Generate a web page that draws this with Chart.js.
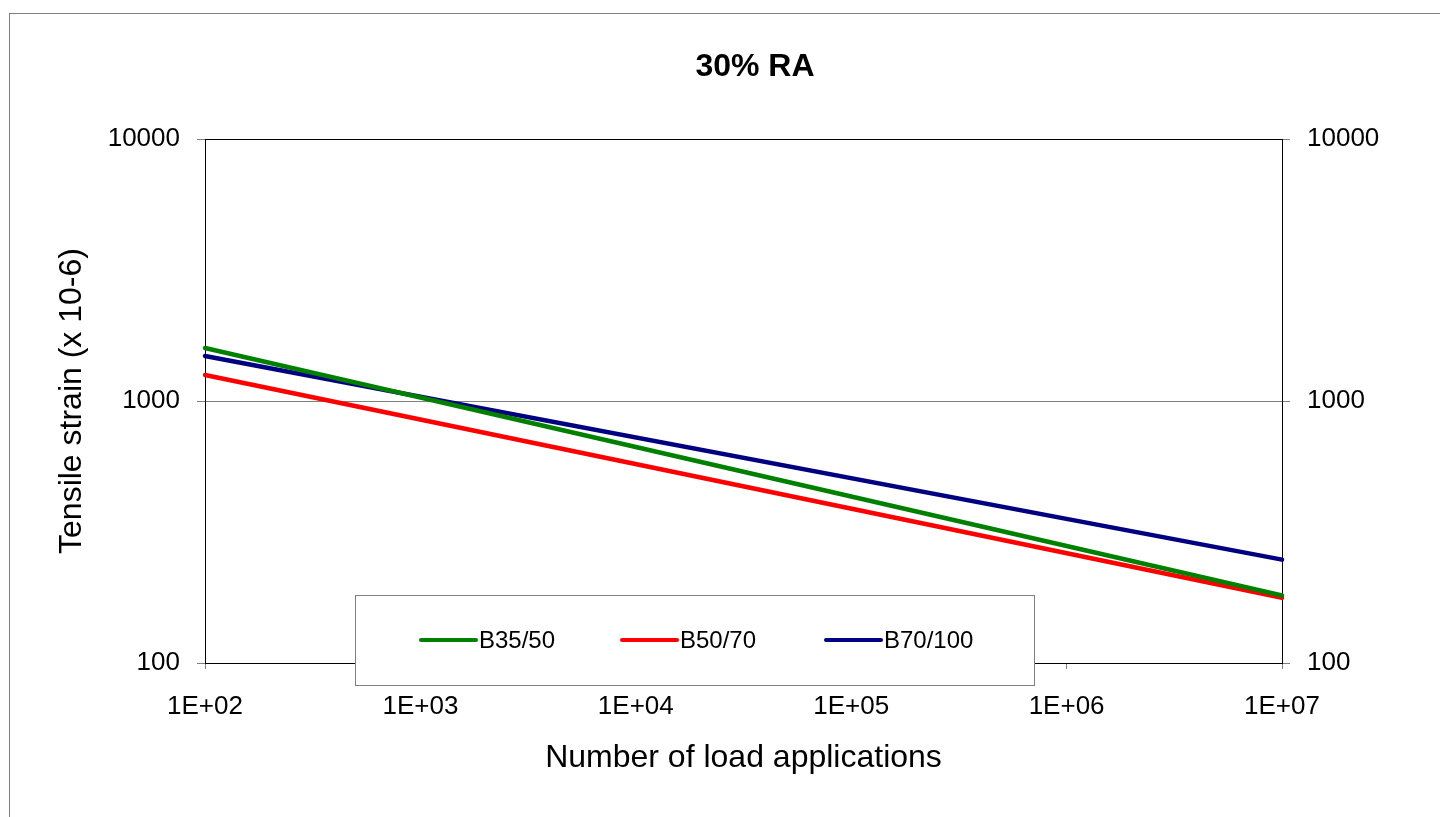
<!DOCTYPE html>
<html>
<head>
<meta charset="utf-8">
<script src="https://cdn.jsdelivr.net/npm/chart.js@4.4.1/dist/chart.umd.min.js"></script>
<style>
  body { margin: 0; background: #fff; }
  canvas { display: block; }
</style>
</head>
<body>
<canvas id="grafica" width="1440" height="817"></canvas>
<script>
// datos (log-log, rectas)
const cargas = [1e2, 1e7];
const b3550 = [1593, 181];
const b5070 = [1257, 177.5];
const b70100 = [1485, 248];

const ticksX = [1e2, 1e3, 1e4, 1e5, 1e6, 1e7];
const ticksY = [100, 1000, 10000];

const titulo = '30% RA';

const series = [
  { label: 'B35/50', valores: b3550, color: '#008000' },
  { label: 'B50/70', valores: b5070, color: '#ff0000' },
  { label: 'B70/100', valores: b70100, color: '#000080' }
];

const fuente = 'Liberation Sans, Arial, sans-serif';
const gris = '#808080';

const datasets = series.map(s => ({
  label: s.label,
  data: cargas.map((n, i) => ({ x: n, y: s.valores[i] })),
  borderColor: s.color,
  backgroundColor: s.color,
  borderWidth: 4.5,
  borderCapStyle: 'round',
  pointRadius: 0,
  tension: 0,
  clip: false
}));

function fmtX(v) {
  const e = Math.round(Math.log10(v));
  return '1E+' + String(e).padStart(2, '0');
}

// marco exterior + borde del area + titulo
const marco = {
  id: 'marco',
  beforeDatasetsDraw(chart) {
    const { ctx, chartArea: a } = chart;
    ctx.save();
    ctx.strokeStyle = gris;
    ctx.lineWidth = 1;
    ctx.strokeRect(9.5, 13.5, 1440, 817);
    ctx.strokeStyle = '#000';
    ctx.strokeRect(a.left + 0.5, a.top + 0.5, a.right - a.left, a.bottom - a.top);
    ctx.fillStyle = '#000';
    ctx.font = 'bold 32px ' + fuente;
    ctx.textAlign = 'center';
    ctx.textBaseline = 'alphabetic';
    ctx.fillText(titulo, 755, 76);
    ctx.restore();
  }
};

// leyenda dentro del grafico
const leyenda = {
  id: 'leyenda',
  afterDraw(chart) {
    const ctx = chart.ctx;
    ctx.save();
    ctx.fillStyle = '#fff';
    ctx.fillRect(355, 595, 679, 90);
    ctx.strokeStyle = gris;
    ctx.lineWidth = 1;
    ctx.strokeRect(355.5, 595.5, 679, 90);
    const xs = [421, 622, 826];
    ctx.font = '24px ' + fuente;
    ctx.textBaseline = 'middle';
    chart.data.datasets.forEach((ds, i) => {
      ctx.strokeStyle = ds.borderColor;
      ctx.lineWidth = 4;
      ctx.lineCap = 'round';
      ctx.beginPath();
      ctx.moveTo(xs[i], 640);
      ctx.lineTo(xs[i] + 55, 640);
      ctx.stroke();
      ctx.fillStyle = '#000';
      ctx.fillText(ds.label, xs[i] + 58, 641);
    });
    ctx.restore();
  }
};

new Chart(document.getElementById('grafica'), {
  type: 'line',
  data: { datasets: datasets },
  plugins: [marco, leyenda],
  options: {
    responsive: false,
    animation: false,
    layout: { padding: { top: 139, left: 0, right: 0, bottom: 0 } },
    plugins: {
      legend: { display: false },
      tooltip: { enabled: false },
      title: { display: false }
    },
    scales: {
      x: {
        type: 'logarithmic',
        min: 1e2,
        max: 1e7,
        afterBuildTicks: s => { s.ticks = ticksX.map(v => ({ value: v })); },
        afterFit: s => { s.height = 154; },
        ticks: {
          callback: v => fmtX(v),
          color: '#000',
          font: { family: fuente, size: 26 },
          padding: 22,
          maxRotation: 0,
          autoSkip: false
        },
        grid: { drawOnChartArea: false, tickLength: 6, tickColor: gris },
        border: { color: '#000', width: 1 },
        title: {
          display: true,
          text: 'Number of load applications',
          color: '#000',
          font: { family: fuente, size: 32 },
          padding: { top: 0, bottom: 40 }
        }
      },
      y: {
        type: 'logarithmic',
        position: 'left',
        min: 100,
        max: 10000,
        afterBuildTicks: s => { s.ticks = ticksY.map(v => ({ value: v })); },
        afterFit: s => { s.width = 205; },
        ticks: {
          callback: v => String(v),
          color: '#000',
          font: { family: fuente, size: 26 },
          padding: 17
        },
        grid: {
          color: ctx => (ctx.tick && ctx.tick.value === 1000 ? gris : 'rgba(0,0,0,0)'),
          tickColor: gris,
          tickLength: 8
        },
        border: { color: '#000', width: 1 },
        title: {
          display: true,
          text: 'Tensile strain (x 10-6)',
          color: '#000',
          font: { family: fuente, size: 32 },
          padding: { top: 53, bottom: 0 }
        }
      },
      y2: {
        type: 'logarithmic',
        position: 'right',
        min: 100,
        max: 10000,
        afterBuildTicks: s => { s.ticks = ticksY.map(v => ({ value: v })); },
        afterFit: s => { s.width = 158; },
        ticks: {
          callback: v => String(v),
          color: '#000',
          font: { family: fuente, size: 26 },
          padding: 17
        },
        grid: { drawOnChartArea: false, tickColor: gris, tickLength: 8 },
        border: { color: '#000', width: 1 }
      }
    }
  }
});
</script>
</body>
</html>
